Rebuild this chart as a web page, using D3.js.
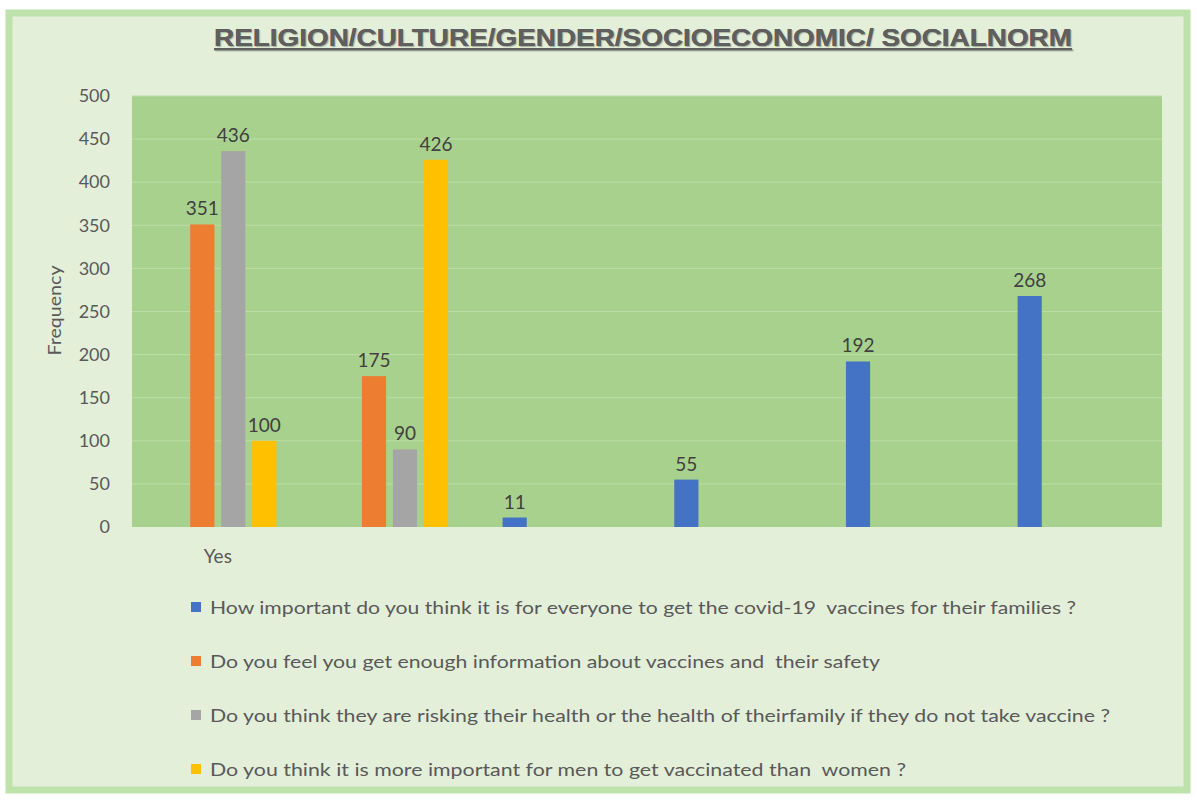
<!DOCTYPE html>
<html>
<head>
<meta charset="utf-8">
<script src="https://cdn.jsdelivr.net/npm/d3@7"></script>
<style>
  html, body { margin: 0; padding: 0; background: #ffffff; }
  svg { display: block; }
</style>
</head>
<body>
<svg id="chart" width="1197" height="801"></svg>
<script>
// Survey responses, one bar group per answer option
const tickLabels = ["Yes", "", "", "", "", ""];
const seriesNames = [
  "How important do you think it is for everyone to get the covid-19  vaccines for their families ?",
  "Do you feel you get enough information about vaccines and  their safety",
  "Do you think they are risking their health or the health of theirfamily if they do not take vaccine ?",
  "Do you think it is more important for men to get vaccinated than  women ?"
];
const importanceValues = [null, null, 11, 55, 192, 268];
const informationValues = [351, 175, null, null, null, null];
const riskValues = [436, 90, null, null, null, null];
const genderValues = [100, 426, null, null, null, null];
const yTicks = [0, 50, 100, 150, 200, 250, 300, 350, 400, 450, 500];
const seriesColors = ["#4472c4", "#ed7d31", "#a5a5a5", "#ffc000"];

const seriesValues = [importanceValues, informationValues, riskValues, genderValues];

const svg = d3.select("#chart");
const plot = { left: 132, right: 1162, top: 96, bottom: 527 };
const bodyFont = "Lato, 'Open Sans', sans-serif";

// Outer frame
svg.append("rect")
  .attr("x", 9).attr("y", 13).attr("width", 1178).attr("height", 777)
  .attr("fill", "#e3efd9").attr("stroke", "#bde3ab").attr("stroke-width", 7);

// Title
svg.append("text")
  .attr("x", 643).attr("y", 46)
  .attr("text-anchor", "middle")
  .attr("font-family", "'Liberation Sans', Arial, sans-serif")
  .attr("font-weight", "bold")
  .attr("font-size", 23)
  .attr("textLength", 858).attr("lengthAdjust", "spacingAndGlyphs")
  .attr("fill", "#5f5f5f")
  .style("text-decoration", "underline")
  .style("text-shadow", "1px 1px 1px rgba(0,0,0,0.15)")
  .text("RELIGION/CULTURE/GENDER/SOCIOECONOMIC/ SOCIALNORM");

// Scales
const x0 = d3.scaleBand().domain(d3.range(tickLabels.length)).range([plot.left, plot.right]);
const groupW = x0.bandwidth() * 0.722;
const groupOffset = (x0.bandwidth() - groupW) / 2;
const x1 = d3.scaleBand().domain(d3.range(seriesNames.length))
  .range([groupOffset, groupOffset + groupW]).paddingInner(0.22).paddingOuter(0.11);
const y = d3.scaleLinear().domain([0, 500]).range([plot.bottom, plot.top]);

// Plot area background
svg.append("rect")
  .attr("x", plot.left).attr("y", plot.top)
  .attr("width", plot.right - plot.left).attr("height", plot.bottom - plot.top)
  .attr("fill", "#a9d18e");

// Gridlines
svg.append("g").selectAll("line").data(yTicks.filter(t => t > 0)).join("line")
  .attr("x1", plot.left).attr("x2", plot.right)
  .attr("y1", d => y(d)).attr("y2", d => y(d))
  .attr("stroke", "#bcdda6").attr("stroke-width", 1);

// Y axis labels
const yAxis = svg.append("g")
  .attr("transform", `translate(${plot.left - 22},0)`)
  .call(d3.axisLeft(y).tickValues(yTicks).tickSize(0).tickPadding(0));
yAxis.select(".domain").remove();
yAxis.selectAll("text")
  .attr("font-family", bodyFont)
  .attr("font-size", 18).attr("fill", "#595959");

// X axis labels
const xAxis = svg.append("g")
  .attr("transform", `translate(0,${plot.bottom})`)
  .call(d3.axisBottom(x0).tickFormat(i => tickLabels[i]).tickSize(0).tickPadding(23));
xAxis.select(".domain").remove();
xAxis.selectAll("text")
  .attr("font-family", bodyFont)
  .attr("font-size", 19).attr("fill", "#595959");

// Y axis title
svg.append("text")
  .attr("transform", `translate(61,${(plot.top + plot.bottom) / 2 - 1}) rotate(-90)`)
  .attr("text-anchor", "middle")
  .attr("font-family", bodyFont)
  .attr("font-size", 17).attr("fill", "#595959")
  .attr("textLength", 90).attr("lengthAdjust", "spacingAndGlyphs")
  .text("Frequency");

// Bars and value labels
const barData = [];
seriesValues.forEach((vals, s) => {
  vals.forEach((v, c) => { if (v !== null) barData.push({ s, c, v }); });
});

svg.append("g").selectAll("rect").data(barData).join("rect")
  .attr("x", d => x0(d.c) + x1(d.s))
  .attr("y", d => y(d.v))
  .attr("width", x1.bandwidth())
  .attr("height", d => y(0) - y(d.v))
  .attr("fill", d => seriesColors[d.s]);

svg.append("g").selectAll("text").data(barData).join("text")
  .attr("x", d => x0(d.c) + x1(d.s) + x1.bandwidth() / 2)
  .attr("y", d => y(d.v) - 9)
  .attr("text-anchor", "middle")
  .attr("font-family", bodyFont)
  .attr("font-size", 19).attr("fill", "#404040")
  .text(d => d.v);

// Legend
const legend = svg.append("g");
const rowY = [607, 661, 715, 769];
const rowWidths = [866, 670, 900, 696];
seriesNames.forEach((name, i) => {
  legend.append("rect")
    .attr("x", 191).attr("y", rowY[i] - 5).attr("width", 10).attr("height", 10)
    .attr("fill", seriesColors[i]);
  legend.append("text")
    .attr("x", 210).attr("y", rowY[i])
    .attr("dominant-baseline", "central")
    .attr("font-family", bodyFont)
    .attr("font-size", 18).attr("fill", "#595959")
    .attr("textLength", rowWidths[i]).attr("lengthAdjust", "spacingAndGlyphs")
    .style("white-space", "pre")
    .text(name);
});
</script>
</body>
</html>
